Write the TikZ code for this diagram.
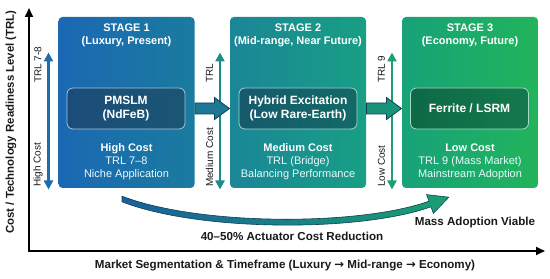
\documentclass[tikz,border=0pt]{standalone}
\usepackage{fontspec}
\setmainfont{Liberation Sans}
\newfontfamily\arrowfont{DejaVu Sans}
\usepackage{tikz}
\usetikzlibrary{arrows.meta, calc}

\definecolor{stageA}{HTML}{1B68B3}
\definecolor{stageAr}{HTML}{1A7B9E}
\definecolor{stageB}{HTML}{1A8697}
\definecolor{stageBr}{HTML}{189F84}
\definecolor{stageC}{HTML}{17A278}
\definecolor{stageCr}{HTML}{22B45B}
\definecolor{coreA}{HTML}{1B4C79}
\definecolor{coreAr}{HTML}{1A5674}
\definecolor{coreB}{HTML}{165A6D}
\definecolor{coreBr}{HTML}{126A66}
\definecolor{coreC}{HTML}{0E6946}
\definecolor{coreCr}{HTML}{137A4C}
\definecolor{trlA}{HTML}{1B6DAE}
\definecolor{trlB}{HTML}{1A8C8E}
\definecolor{trlC}{HTML}{1BA06E}
\definecolor{blockA}{HTML}{1C7896}
\definecolor{blockB}{HTML}{1A9478}
\definecolor{curveA}{HTML}{1A5F9E}
\definecolor{curveB}{HTML}{1AA070}
\definecolor{inktext}{HTML}{1A1A1A}
\definecolor{edgedark}{HTML}{0E3F55}

\begin{document}
\begin{tikzpicture}[x=1pt, y=1pt, line width=1pt,
    stagebox/.style={minimum width=136pt, minimum height=171pt, inner sep=0pt, rounded corners=4pt},
    corebox/.style={minimum width=118pt, minimum height=41pt, inner sep=0pt, rounded corners=6pt,
      line width=0.8pt, text=white, align=center, font=\fontsize{12}{14.5}\selectfont\bfseries},
    stagetext/.style={text=white, align=center, font=\fontsize{11}{13}\selectfont\bfseries},
    costtext/.style={text=white!92!cyan, align=center, font=\fontsize{11}{13}\selectfont},
    sidelabel/.style={rotate=90, anchor=west, inner sep=0pt, text=inktext, font=\fontsize{10}{12}\selectfont},
    trlarrow/.style={line width=2.6pt, draw=#1,
      {Triangle[length=9pt,width=9pt]}-{Triangle[length=9pt,width=9pt]}},
    blockarrow/.style={fill=#1, draw=edgedark, line width=0.8pt, line join=miter},
    axislabel/.style={text=inktext, font=\fontsize{11.6}{13}\selectfont\bfseries}
  ]
  \fill[white] (0,0) rectangle (550,279);
  \useasboundingbox (0,0) rectangle (550,279);

  % stages
  \node[stagebox, left color=stageA, right color=stageAr] (s1) at (126.5,176.5) {};
  \node[stagebox, left color=stageB, right color=stageBr] (s2) at (298,176.5) {};
  \node[stagebox, left color=stageC, right color=stageCr] (s3) at (470,176.5) {};

  \node[stagetext] (h1) at ($(s1.north)+(0,-18.5)$) {STAGE 1\\(Luxury, Present)};
  \node[stagetext] (h2) at ($(s2.north)+(0,-18.5)$) {STAGE 2\\(Mid-range, Near Future)};
  \node[stagetext] (h3) at ($(s3.north)+(0,-18.5)$) {STAGE 3\\(Economy, Future)};

  % motor types
  \node[corebox, draw=white!60!trlA, left color=coreA, right color=coreAr] (c1) at (126,170.5) {PMSLM\\(NdFeB)};
  \node[corebox, draw=white!60!trlB, left color=coreB, right color=coreBr] (c2) at (298,170.5) {Hybrid Excitation\\(Low Rare-Earth)};
  \node[corebox, draw=white!60!trlC, left color=coreC, right color=coreCr] (c3) at (469.5,170.5) {Ferrite / LSRM};

  \node[costtext] (k1) at ($(s1.south)+(0,27)$) {\textcolor{white}{\bfseries High Cost}\\TRL 7–8\\Niche Application};
  \node[costtext] (k2) at ($(s2.south)+(0,27)$) {\textcolor{white}{\bfseries Medium Cost}\\TRL (Bridge)\\Balancing Performance};
  \node[costtext] (k3) at ($(s3.south)+(0,27)$) {\textcolor{white}{\bfseries Low Cost}\\TRL 9 (Mass Market)\\Mainstream Adoption};

  % TRL / cost arrows
  \foreach \i/\c/\trltext/\costlabel in {1/trlA/TRL 7-8/High Cost, 2/trlB/TRL/Medium Cost, 3/trlC/TRL 9/Low Cost} {
    \coordinate (b\i) at ($(s\i.south west)+(-9.5,-1)$);
    \coordinate (t\i) at ($(s\i.south west)+(-9.5,136)$);
    \draw[trlarrow=\c] (b\i) -- (t\i);
    \node[sidelabel] (lt\i) at ($(b\i)+(-10.5,106)$) {\trltext};
    \node[sidelabel] (lb\i) at ($(b\i)+(-10.5,2)$) {\costlabel};
  }

  % stage to stage
  \foreach \a/\b/\c in {1/2/blockA, 2/3/blockB} {
    \draw[blockarrow=\c] ($(s\a.east |- c\a)+(0,5.5)$) -- ($(s\b.west |- c\a)+(-15,5.5)$) -- ++(0,5.5)
      -- (s\b.west |- c\a) -- ++(-15,-11) -- ++(0,5.5) -- ($(s\a.east |- c\a)+(0,-5.5)$) -- cycle;
  }

  % cost reduction curve
  \shade[left color=curveA, right color=curveB, draw=edgedark, line width=0.6pt]
    (122,82.8) .. controls (200,53) and (359,53) .. (429,77.8) -- (426.6,84.4) -- (448.8,81.8)
    -- (433.4,65.6) -- (431,72.2) .. controls (361,47) and (200,47) .. (122,77.2) -- cycle;
  \node[axislabel] (gain) at (292,43) {40–50\% Actuator Cost Reduction};
  \node[axislabel] (mass) at (475,56) {Mass Adoption Viable};

  % axes
  \coordinate (origin) at (29,28);
  \coordinate (ytop) at (29,271);
  \coordinate (xend) at (545,28);
  \draw[line width=1.8pt, line join=miter, {Triangle[length=9pt,width=8pt]}-{Triangle[length=9pt,width=8pt]}]
    (ytop) -- (origin) -- (xend);
  \node[axislabel] (xlabel) at (285,13) {Market Segmentation \& Timeframe (Luxury {\arrowfont\bfseries →} Mid-range {\arrowfont\bfseries →} Economy)};
  \node[axislabel, font=\fontsize{11.4}{13}\selectfont\bfseries, rotate=90] (ylabel) at (11,157) {Cost / Technology Readiness Level (TRL)};
\end{tikzpicture}
\end{document}
